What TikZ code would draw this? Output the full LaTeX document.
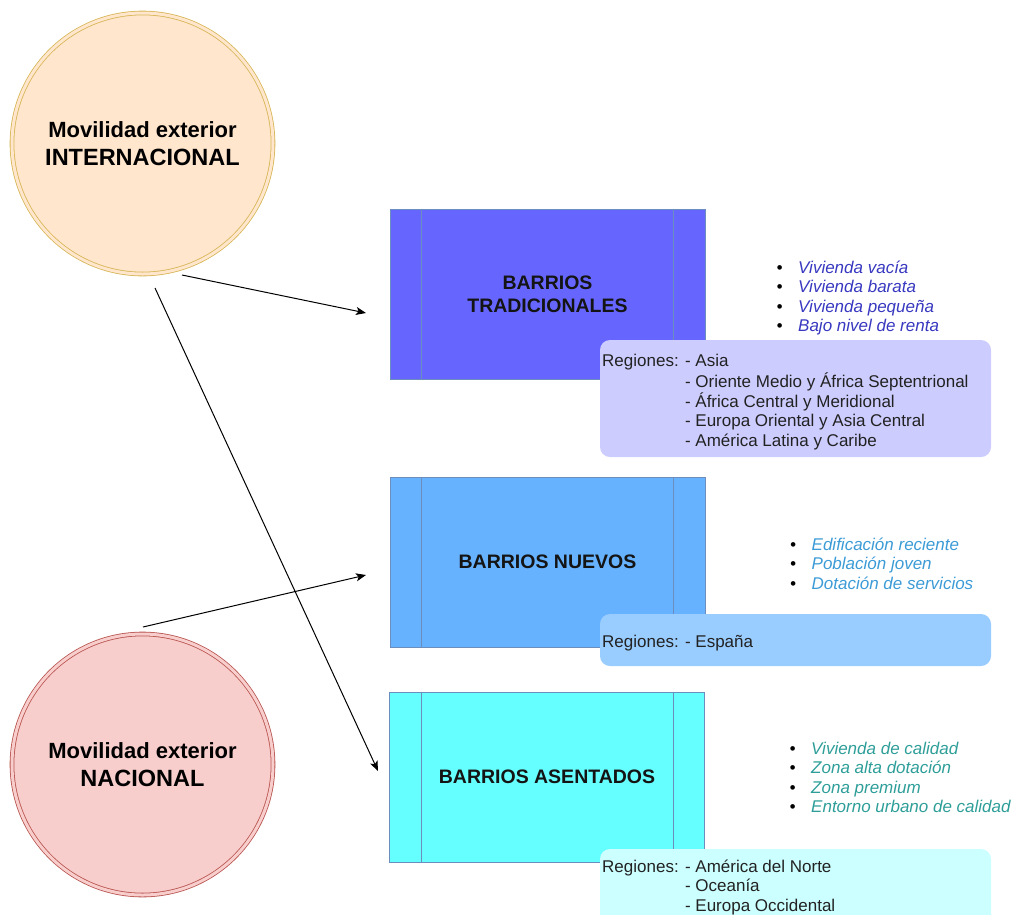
\documentclass[tikz,border=0pt]{standalone}
\usepackage{fontspec}
\setmainfont{Liberation Sans}
\usetikzlibrary{arrows.meta}
\definecolor{c1fill}{HTML}{FFE6CC}
\definecolor{c1line}{HTML}{D6B656}
\definecolor{c2fill}{HTML}{F8CECC}
\definecolor{c2line}{HTML}{B85450}
\definecolor{b1fill}{HTML}{6666FF}
\definecolor{b2fill}{HTML}{66B2FF}
\definecolor{b3fill}{HTML}{66FFFF}
\definecolor{boxline}{HTML}{6C8EBF}
\definecolor{r1fill}{HTML}{CCCCFF}
\definecolor{r2fill}{HTML}{99CCFF}
\definecolor{r3fill}{HTML}{CCFFFF}
\definecolor{regtext}{HTML}{222222}
\definecolor{bul1}{HTML}{3838C0}
\definecolor{bul2}{HTML}{3C9BD6}
\definecolor{bul3}{HTML}{2E9E99}
\newcommand\mybullet{\makebox[21.5pt][l]{\color{black}\textbullet}}
\begin{document}
\begin{tikzpicture}[x=1pt,y=-1pt,
  circnode/.style={circle, minimum size=261pt, inner sep=0pt, line width=0.8pt,
    double distance=3pt, align=center, text=black,
    font=\bfseries\fontsize{22}{28}\selectfont},
  procbox/.style={rectangle, draw=boxline, line width=0.8pt, minimum width=315pt,
    minimum height=170pt, inner sep=0pt, align=center, text=black!92,
    font=\bfseries\fontsize{19.5}{23}\selectfont},
  procline/.style={draw=boxline, line width=0.8pt},
  regbox/.style={rectangle, rounded corners=10pt, minimum width=391pt, inner sep=0pt},
  regtxt/.style={anchor=north west, inner sep=0pt, align=left, text=regtext,
    font=\fontsize{17}{19.5}\selectfont},
  bultxt/.style={anchor=north west, inner sep=0pt, align=left,
    font=\itshape\fontsize{17}{19.5}\selectfont},
  conn/.style={draw=black, line width=1pt, -{Stealth[length=10pt,width=8pt,inset=2.5pt]}}
]
\useasboundingbox (0,0) rectangle (1015,914);
\clip (0,0) rectangle (1015,914);

% circles
\node[circnode, draw=c1line, double=c1fill, fill=c1fill] (intl) at (142.5,143.5)
  {Movilidad exterior\\{\fontsize{23.5}{28}\selectfont INTERNACIONAL}};
\node[circnode, draw=c2line, double=c2fill, fill=c2fill] (nac) at (142.5,764.5)
  {Movilidad exterior\\{\fontsize{23.5}{28}\selectfont NACIONAL}};

% process boxes
\node[procbox, fill=b1fill] (b1) at (547.5,294) {BARRIOS\\TRADICIONALES};
\node[procbox, fill=b2fill] (b2) at (547.5,562) {BARRIOS NUEVOS};
\node[procbox, fill=b3fill] (b3) at (547,777) {BARRIOS ASENTADOS};
\foreach \b in {b1,b2,b3}{
  \draw[procline] ([xshift=32pt]\b.north west) -- ([xshift=32pt]\b.south west);
  \draw[procline] ([xshift=-32pt]\b.north east) -- ([xshift=-32pt]\b.south east);
}

% region boxes
\node[regbox, fill=r1fill, minimum height=117pt] (r1) at (795.5,398.5) {};
\node[regbox, fill=r2fill, minimum height=52pt] (r2) at (795.5,640) {};
\node[regbox, fill=r3fill, minimum height=91pt] (r3) at (795.5,894.5) {};

\node[regtxt] (r1t) at (602,352.4) {\strut Regiones: - Asia\\
  \hphantom{Regiones: }- Oriente Medio y África Septentrional\\
  \hphantom{Regiones: }- África Central y Meridional\\
  \hphantom{Regiones: }- Europa Oriental y Asia Central\\
  \hphantom{Regiones: }- América Latina y Caribe};
\node[regtxt] (r2t) at (602,633.4) {\strut Regiones: - España};
\node[regtxt] (r3t) at (602,858.4) {\strut Regiones: - América del Norte\\
  \hphantom{Regiones: }- Oceanía\\
  \hphantom{Regiones: }- Europa Occidental};

% bullet lists
\node[bultxt, text=bul1] (l1) at (776.5,259.4) {\strut\mybullet Vivienda vacía\\
  \mybullet Vivienda barata\\
  \mybullet Vivienda pequeña\\
  \mybullet Bajo nivel de renta};
\node[bultxt, text=bul2] (l2) at (790,536.4) {\strut\mybullet Edificación reciente\\
  \mybullet Población joven\\
  \mybullet Dotación de servicios};
\node[bultxt, text=bul3] (l3) at (789.5,740.4) {\strut\mybullet Vivienda de calidad\\
  \mybullet Zona alta dotación\\
  \mybullet Zona premium\\
  \mybullet Entorno urbano de calidad};

% connectors
\coordinate (a1s) at (182,275);
\coordinate (a1e) at (366,313);
\coordinate (a2s) at (155,288);
\coordinate (a2e) at (378,771);
\coordinate (a3s) at (143,627);
\coordinate (a3e) at (366,575);
\draw[conn] (a1s) -- (a1e);
\draw[conn] (a2s) -- (a2e);
\draw[conn] (a3s) -- (a3e);
\end{tikzpicture}
\end{document}
